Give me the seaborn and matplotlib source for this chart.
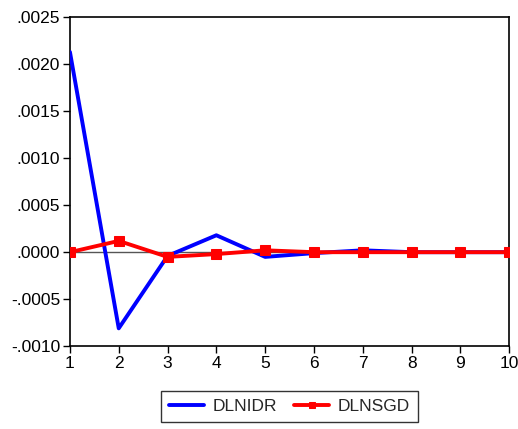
import matplotlib
matplotlib.use("Agg")
import matplotlib.pyplot as plt
import seaborn as sns
import pandas as pd

periods = [1, 2, 3, 4, 5, 6, 7, 8, 9, 10]
dlnidr = [0.00213, -0.00081, -0.00004, 0.00018, -0.00005, -0.00001, 0.00002, 0.0, 0.0, 0.0]
dlnsgd = [0.0, 0.00012, -0.00005, -0.00002, 0.00002, 0.0, 0.0, 0.0, 0.0, 0.0]
ytick_vals = [-0.0010, -0.0005, 0.0, 0.0005, 0.0010, 0.0015, 0.0020, 0.0025]
ytick_labels = ["-.0010", "-.0005", ".0000", ".0005", ".0010", ".0015", ".0020", ".0025"]

sns.set_theme(style="white")
plt.rcParams['font.family'] = ['Liberation Sans', 'DejaVu Sans']

df = pd.DataFrame({"period": periods, "DLNIDR": dlnidr, "DLNSGD": dlnsgd})

fig = plt.figure(figsize=(5.18, 4.29), dpi=100)
ax = fig.add_axes([0.135, 0.193, 0.848, 0.767])
ax.axhline(0, color="#555555", lw=1.0, zorder=1)
sns.lineplot(data=df, x="period", y="DLNIDR", ax=ax, color="#0000ff", lw=2.8, label="DLNIDR", zorder=3)
sns.lineplot(data=df, x="period", y="DLNSGD", ax=ax, color="#ff0000", lw=2.8, marker="s",
             markersize=7, markeredgecolor="#ff0000", label="DLNSGD", zorder=4)

ax.set_xlim(1, 10)
ax.set_ylim(-0.0010, 0.0025)
ax.set_xticks(periods)
ax.set_xticklabels([str(p) for p in periods], fontsize=12.5)
ax.set_yticks(ytick_vals)
ax.set_yticklabels(ytick_labels, fontsize=12.5)
ax.set_xlabel("")
ax.set_ylabel("")
for s in ax.spines.values():
    s.set_color("black")
    s.set_linewidth(1.2)
ax.tick_params(axis="both", direction="out", length=5, width=1, color="black", labelcolor="black", pad=2,
               left=True, bottom=True)

leg = ax.legend(loc="upper center", bbox_to_anchor=(0.50, -0.11), ncol=2, frameon=True, fancybox=False,
                fontsize=12.5, handlelength=2.0, columnspacing=1.0, borderpad=0.45, handletextpad=0.5,
                markerscale=0.7)
leg.get_frame().set_edgecolor("black")
leg.get_frame().set_linewidth(1.0)

fig.savefig("out.png", dpi=100)
